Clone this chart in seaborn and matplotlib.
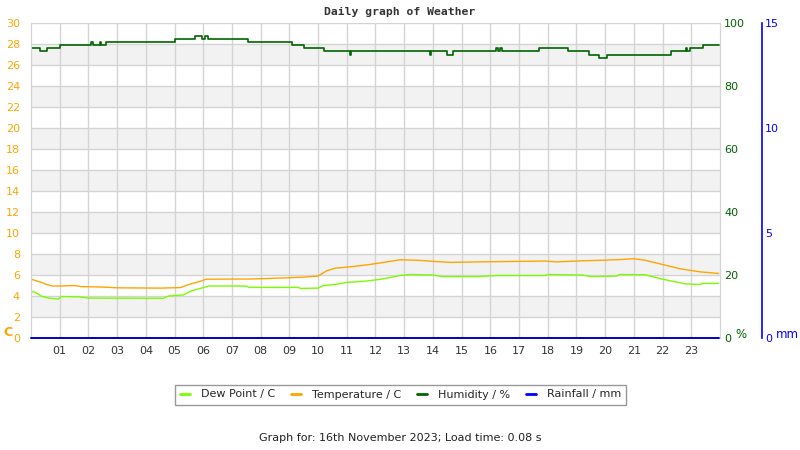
import matplotlib
matplotlib.use("Agg")
import matplotlib.pyplot as plt
from matplotlib.lines import Line2D
import seaborn as sns
import numpy as np

# ---------------- data ----------------
hour_ticks = list(range(1, 24))
hour_labels = ["%02d" % h for h in hour_ticks]

temp_t = [0.0, 0.3, 0.55, 0.75, 1.0, 1.5, 1.75, 2.5, 3.0, 4.5, 5.2, 5.5, 5.9, 6.1,
          7.7, 8.8, 9.5, 10.0, 10.3, 10.6, 11.2, 11.8, 12.4, 12.85, 13.5, 14.0,
          14.6, 15.6, 17.9, 18.3, 19.2, 20.4, 21.0, 21.4, 22.0, 22.6, 23.3, 23.95]
temp_v = [5.6, 5.35, 5.1, 4.95, 4.95, 5.0, 4.9, 4.85, 4.78, 4.75, 4.8, 5.1, 5.4, 5.6,
          5.62, 5.72, 5.8, 5.9, 6.4, 6.65, 6.8, 7.0, 7.25, 7.45, 7.4, 7.3,
          7.2, 7.25, 7.33, 7.25, 7.35, 7.45, 7.55, 7.4, 7.0, 6.6, 6.3, 6.15]

dew_t = [0.0, 0.15, 0.35, 0.6, 0.95, 1.05, 1.7, 2.0, 4.6, 4.8, 5.3, 5.6, 6.0, 6.2,
         7.5, 7.6, 9.3, 9.4, 10.0, 10.2, 10.6, 11.0, 11.6, 12.2, 12.85, 13.2,
         14.0, 14.3, 15.6, 16.2, 17.9, 18.0, 19.2, 19.5, 20.4, 20.5, 21.4, 22.0,
         22.8, 23.3, 23.4, 23.95]
dew_v = [4.45, 4.35, 4.0, 3.8, 3.7, 3.95, 3.92, 3.8, 3.78, 4.0, 4.1, 4.5, 4.8, 4.95,
         4.95, 4.82, 4.82, 4.72, 4.75, 5.0, 5.1, 5.3, 5.4, 5.6, 5.95, 6.05,
         6.0, 5.85, 5.85, 5.95, 5.95, 6.05, 6.0, 5.85, 5.9, 6.05, 6.02, 5.6,
         5.15, 5.1, 5.2, 5.2]

hum_t = [0.0, 0.3, 0.55, 1.0, 2.1, 2.15, 2.4, 2.45, 2.6, 5.0, 5.7, 5.95, 6.05, 6.15,
         7.55, 9.1, 9.5, 10.2, 11.1, 11.15, 13.9, 13.95, 14.5, 14.7, 16.2, 16.25,
         16.35, 16.4, 17.7, 18.7, 19.45, 19.8, 20.05, 22.3, 22.8, 22.85, 22.95,
         23.4, 23.95]
hum_v = [92, 91, 92, 93, 94, 93, 94, 93, 94, 95, 96, 95, 96, 95,
         94, 93, 92, 91, 90, 91, 90, 91, 90, 91, 92, 91,
         92, 91, 92, 91, 90, 89, 90, 91, 92, 91, 92,
         93, 93]

rain_t = [0.0, 23.95]
rain_v = [0.0, 0.0]

# ---------------- style ----------------
sns.set_style("white")
plt.rcParams["font.family"] = ["DejaVu Sans"]

C_TEMP = "#FFA500"
C_DEW = "#7CFC00"
C_HUM = "#006400"
C_RAIN = "#0000FF"
GRID = "#d4d4d4"

fig = plt.figure(figsize=(8, 4.5), dpi=100)
ax = fig.add_axes([31 / 800, 1 - 338 / 450, 689 / 800, 315 / 450])
ax_h = ax.twinx()
ax_r = ax.twinx()

# bands and grid
for lo in range(2, 28, 4):
    ax.axhspan(lo, lo + 2, color="#f2f2f2", zorder=0, lw=0)
for y in range(0, 31, 2):
    ax.axhline(y, color=GRID, lw=1, zorder=0.5)
for x in hour_ticks:
    ax.axvline(x, color=GRID, lw=1, zorder=0.5)

sns.lineplot(x=dew_t, y=dew_v, ax=ax, color=C_DEW, lw=1.0, legend=False, zorder=3)
sns.lineplot(x=temp_t, y=temp_v, ax=ax, color=C_TEMP, lw=1.0, legend=False, zorder=3)
sns.lineplot(x=hum_t, y=hum_v, ax=ax_h, color=C_HUM, lw=1.2, legend=False,
             drawstyle="steps-post")
sns.lineplot(x=rain_t, y=rain_v, ax=ax_r, color="#0000CC", lw=1.4, legend=False,
             clip_on=False)

ax.set_xlim(0, 24)
ax.set_ylim(0, 30)
ax.set_yticks(range(0, 31, 2))
ax.set_xticks(hour_ticks)
ax.set_xticklabels(hour_labels)
ax.tick_params(axis="y", length=0, pad=8, labelcolor=C_TEMP, labelsize=8)
ax.tick_params(axis="x", length=0, pad=6, labelcolor="#333333", labelsize=8)
ax.set_xlabel("")
ax.set_ylabel("")

ax_h.set_ylim(0, 100)
ax_h.set_yticks(range(0, 101, 20))
ax_h.tick_params(axis="y", length=0, pad=3, labelcolor=C_HUM, labelsize=8)
ax_h.set_ylabel("")

ax_r.set_ylim(0, 15)
ax_r.set_yticks([0, 5, 10, 15])
ax_r.spines["right"].set_position(("axes", (762 - 31) / 689))
ax_r.spines["right"].set_color(C_RAIN)
ax_r.spines["right"].set_linewidth(1.2)
ax_r.tick_params(axis="y", length=0, pad=2, color=C_RAIN,
                 labelcolor=C_RAIN, labelsize=8)
ax_r.set_ylabel("")

for a in (ax, ax_h, ax_r):
    a.spines["top"].set_visible(False)
    a.spines["bottom"].set_visible(False)
for a in (ax, ax_h):
    a.spines["left"].set_color(GRID)
    a.spines["right"].set_color(GRID)
ax_r.spines["left"].set_visible(False)

# axis unit labels
fig.text(3 / 800, 1 - 333 / 450, "C", color=C_TEMP, fontsize=9, fontweight="bold",
         ha="left", va="center")
fig.text(735 / 800, 1 - 334 / 450, "%", color=C_HUM, fontsize=8.5,
         ha="left", va="center")
fig.text(776 / 800, 1 - 335 / 450, "mm", color=C_RAIN, fontsize=8.5,
         ha="left", va="center")

fig.text(0.5, 1 - 12 / 450, "Daily graph of Weather", family="DejaVu Sans Mono",
         fontweight="bold", fontsize=8.2, color="#333333", ha="center", va="center")

handles = [Line2D([], [], color=C_DEW, lw=2),
           Line2D([], [], color=C_TEMP, lw=2),
           Line2D([], [], color=C_HUM, lw=2),
           Line2D([], [], color=C_RAIN, lw=2)]
labels = ["Dew Point / C", "Temperature / C", "Humidity / %", "Rainfall / mm"]
leg = fig.legend(handles, labels, loc="center", bbox_to_anchor=(400.5 / 800, 1 - 394.5 / 450),
                 ncol=4, frameon=True, fancybox=False, fontsize=8,
                 handlelength=0.9, handletextpad=1.0, columnspacing=1.4,
                 borderpad=0.45, edgecolor="#808080")
leg.get_frame().set_linewidth(1)

fig.text(0.5, 1 - 438 / 450, "Graph for: 16th November 2023; Load time: 0.08 s",
         fontsize=8, color="#222222", ha="center", va="center")

fig.savefig("out.png", dpi=100)
